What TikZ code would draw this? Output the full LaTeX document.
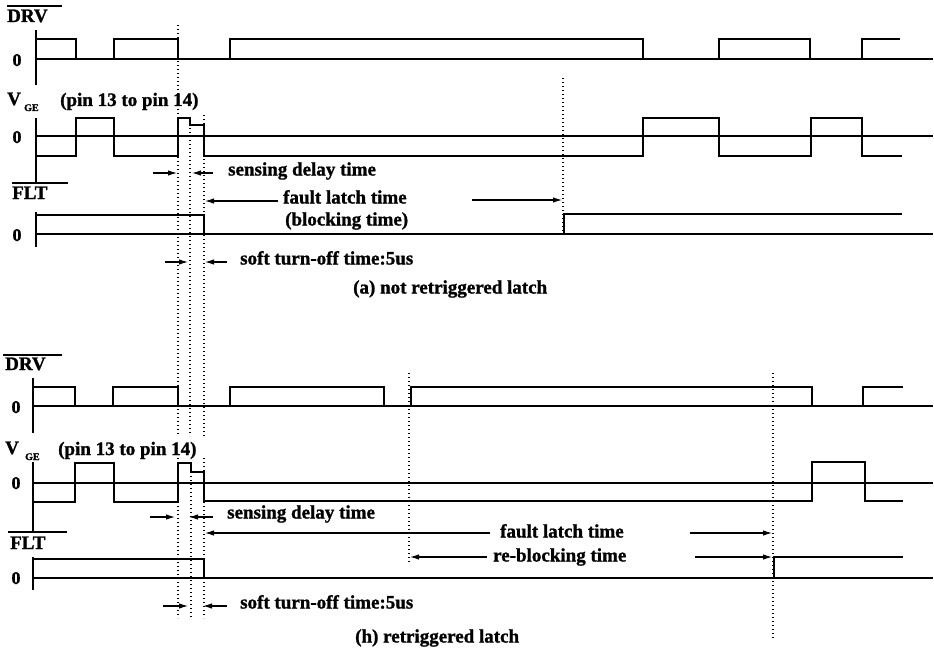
\documentclass[tikz,border=0pt]{standalone}
\usepackage{fontspec}
\setmainfont{Liberation Serif}[BoldFeatures={FakeBold=1.2}]
\usetikzlibrary{arrows.meta}
\begin{document}
\begin{tikzpicture}[x=1pt,y=-1pt,
  wave/.style={line width=2.2pt, line join=miter},
  axisline/.style={line width=1.7pt},
  zeroline/.style={line width=1.4pt},
  overbar/.style={line width=1.3pt},
  guide/.style={line width=1.1pt, dash pattern=on 1.4pt off 2.6pt},
  dim/.style={line width=1.1pt, -{Latex[length=9pt,width=5.5pt]}},
  lbl/.style={font=\fontsize{19}{21}\selectfont\bfseries, inner sep=0pt, anchor=base west},
  zlbl/.style={font=\fontsize{18}{20}\selectfont\bfseries, inner sep=0pt, anchor=base},
  sublbl/.style={font=\fontsize{10}{11}\selectfont\bfseries, inner sep=0pt, anchor=base west}]
\useasboundingbox (0,0) rectangle (934,650);

% ================= (a) =================
% DRV
\draw[overbar] (7,6) -- (62,6);
\node[lbl] (drvA) at (7,22) {DRV};
\node[zlbl] (zA1) at (17,66) {0};
\draw[axisline] (36,30) -- (36,85);
\draw[wave] (36,59) -- (933,59);
\draw[wave] (36,39) -- (76,39) -- (76,59) -- (114,59) -- (114,39) -- (178,39) -- (178,59)
  -- (230,59) -- (230,39) -- (643,39) -- (643,59) -- (719,59) -- (719,39) -- (810,39)
  -- (810,59) -- (862,59) -- (862,39) -- (900,39);
% VGE
\node[lbl] (vA) at (7,105) {V};
\node[sublbl] (geA) at (24,111) {GE};
\node[lbl] (pinA) at (60,106) {(pin 13 to pin 14)};
\node[zlbl] (zA2) at (17,143) {0};
\draw[axisline] (36,118) -- (36,183);
\draw[zeroline] (36,136) -- (933,136);
\draw[wave] (36,156) -- (76,156) -- (76,118) -- (114,118) -- (114,156) -- (178,156) -- (178,118)
  -- (190,118) -- (190,125) -- (204,125) -- (204,156) -- (643,156) -- (643,118) -- (719,118)
  -- (719,156) -- (811,156) -- (811,118) -- (862,118) -- (862,156) -- (902,156);
% FLT
\draw[overbar] (12,183) -- (68,183);
\node[lbl] (fltA) at (12,199) {FLT};
\node[zlbl] (zA3) at (17,241) {0};
\draw[axisline] (36,212) -- (36,247);
\draw[wave] (36,234) -- (933,234);
\draw[wave] (36,215) -- (204,215) -- (204,234);
\draw[wave] (564,234) -- (564,214) -- (902,214);
% guides
\draw[guide] (178,25) -- (178,436);
\draw[guide] (190,128) -- (190,436);
\draw[guide] (204,115) -- (204,436);
\draw[guide] (563,78) -- (563,232);
% dimension arrows
\coordinate (sdA1) at (153,173); \coordinate (sdA2) at (177,173);
\coordinate (sdA3) at (213,173); \coordinate (sdA4) at (192,173);
\draw[dim] (sdA1) -- (sdA2);
\draw[dim] (sdA3) -- (sdA4);
\node[lbl] (sensA) at (228,175.5) {sensing delay time};
\coordinate (flA1) at (278,201); \coordinate (flA2) at (205,201);
\coordinate (flA3) at (472,200); \coordinate (flA4) at (562,200);
\draw[dim] (flA1) -- (flA2);
\draw[dim] (flA3) -- (flA4);
\node[lbl] (faultA) at (283,203.5) {fault latch time};
\node[lbl] (blockA) at (285,225.5) {(blocking time)};
\coordinate (stA1) at (165,262); \coordinate (stA2) at (188,262);
\coordinate (stA3) at (227,262); \coordinate (stA4) at (205,262);
\draw[dim] (stA1) -- (stA2);
\draw[dim] (stA3) -- (stA4);
\node[lbl] (softA) at (240,264.5) {soft turn-off time:5us};
\node[lbl] (capA) at (353,293.5) {(a) not retriggered latch};

% ================= (b) =================
% DRV
\draw[overbar] (3,355) -- (62,355);
\node[lbl] (drvB) at (5,370) {DRV};
\node[zlbl] (zB1) at (16,413) {0};
\draw[axisline] (33,378) -- (33,433);
\draw[wave] (33,406) -- (933,406);
\draw[wave] (33,387) -- (75,387) -- (75,406) -- (113,406) -- (113,387) -- (178,387) -- (178,406)
  -- (230,406) -- (230,387) -- (384,387) -- (384,406) -- (411,406) -- (411,387) -- (812,387)
  -- (812,406) -- (863,406) -- (863,387) -- (903,387);
% VGE
\node[lbl] (vB) at (5,454) {V};
\node[sublbl] (geB) at (25,460) {GE};
\node[lbl] (pinB) at (58,455) {(pin 13 to pin 14)};
\node[zlbl] (zB2) at (16,489) {0};
\draw[axisline] (33,462) -- (33,532);
\draw[zeroline] (33,483) -- (933,483);
\draw[wave] (33,502) -- (75,502) -- (75,463) -- (114,463) -- (114,502) -- (178,502) -- (178,463)
  -- (191,463) -- (191,472) -- (204,472) -- (204,501) -- (812,501) -- (812,462) -- (865,462)
  -- (865,501) -- (903,501);
% FLT
\draw[overbar] (8,532) -- (67,532);
\node[lbl] (fltB) at (10,549) {FLT};
\node[zlbl] (zB3) at (16,584) {0};
\draw[axisline] (33,557) -- (33,590);
\draw[wave] (33,578) -- (933,578);
\draw[wave] (33,559) -- (204,559) -- (204,578);
\draw[wave] (774,578) -- (774,557) -- (903,557);
% guides
\draw[guide] (178,458) -- (178,618);
\draw[guide] (191,472) -- (191,618);
\draw[guide] (204,458) -- (204,618);
\draw[guide] (409,373) -- (409,563);
\draw[guide] (773,373) -- (773,640);
% dimension arrows
\coordinate (sdB1) at (150,517); \coordinate (sdB2) at (175,517);
\coordinate (sdB3) at (213,517); \coordinate (sdB4) at (189,517);
\draw[dim] (sdB1) -- (sdB2);
\draw[dim] (sdB3) -- (sdB4);
\node[lbl] (sensB) at (227,518.5) {sensing delay time};
\coordinate (flB1) at (490,533); \coordinate (flB2) at (205,533);
\coordinate (flB3) at (690,533); \coordinate (flB4) at (772,533);
\draw[dim] (flB1) -- (flB2);
\draw[dim] (flB3) -- (flB4);
\node[lbl] (faultB) at (500,537.5) {fault latch time};
\coordinate (rbB1) at (487,557); \coordinate (rbB2) at (410,557);
\coordinate (rbB3) at (695,557); \coordinate (rbB4) at (772,557);
\draw[dim] (rbB1) -- (rbB2);
\draw[dim] (rbB3) -- (rbB4);
\node[lbl] (reblB) at (493,561.5) {re-blocking time};
\coordinate (stB1) at (163,606); \coordinate (stB2) at (188,606);
\coordinate (stB3) at (227,606); \coordinate (stB4) at (203,606);
\draw[dim] (stB1) -- (stB2);
\draw[dim] (stB3) -- (stB4);
\node[lbl] (softB) at (240,608.5) {soft turn-off time:5us};
\node[lbl] (capB) at (355,642.5) {(h) retriggered latch};
\end{tikzpicture}
\end{document}
